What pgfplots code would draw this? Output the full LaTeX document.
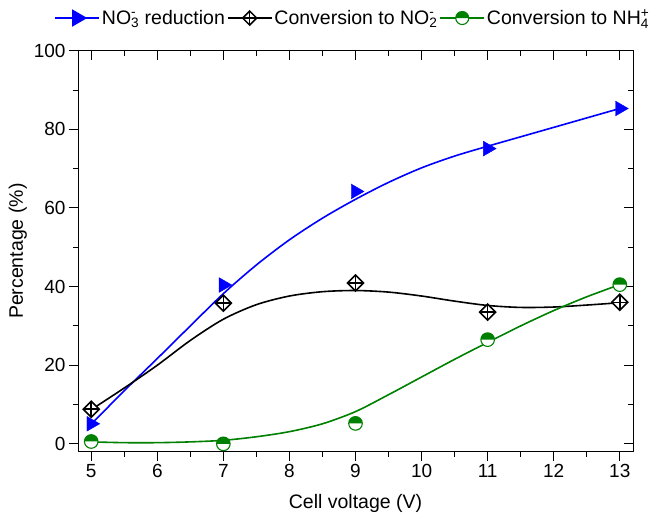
\documentclass[border=0pt]{standalone}
\usepackage{pgfplots}
\pgfplotsset{compat=1.18}
\usepackage{fontspec}
\setmainfont{Liberation Sans}
\definecolor{og}{RGB}{0,128,0}
\definecolor{ob}{RGB}{0,0,255}
\newcommand{\ion}[2]{\rlap{\textsuperscript{#2}}\textsubscript{#1}}
\newcommand{\fs}{\fontsize{19bp}{22bp}\selectfont}
\newcommand{\fl}{\fontsize{19.5bp}{22bp}\selectfont}

\pgfdeclareplotmark{dplus}{%
  \pgfpathmoveto{\pgfqpoint{0pt}{\pgfplotmarksize}}%
  \pgfpathlineto{\pgfqpoint{\pgfplotmarksize}{0pt}}%
  \pgfpathlineto{\pgfqpoint{0pt}{-\pgfplotmarksize}}%
  \pgfpathlineto{\pgfqpoint{-\pgfplotmarksize}{0pt}}%
  \pgfpathclose
  \pgfsetfillcolor{white}%
  \pgfusepathqfillstroke
  \pgfpathmoveto{\pgfqpoint{0pt}{\pgfplotmarksize}}%
  \pgfpathlineto{\pgfqpoint{0pt}{-\pgfplotmarksize}}%
  \pgfpathmoveto{\pgfqpoint{\pgfplotmarksize}{0pt}}%
  \pgfpathlineto{\pgfqpoint{-\pgfplotmarksize}{0pt}}%
  \pgfusepathqstroke}

\pgfdeclareplotmark{halfcirc}{%
  \pgfsetfillcolor{white}%
  \pgfpathcircle{\pgfpointorigin}{\pgfplotmarksize}%
  \pgfusepathqfill
  \pgfsetfillcolor{og}%
  \pgfpathmoveto{\pgfqpoint{\pgfplotmarksize}{0pt}}%
  \pgfpatharc{0}{180}{\pgfplotmarksize}%
  \pgfpathclose
  \pgfusepathqfill
  \pgfpathcircle{\pgfpointorigin}{\pgfplotmarksize}%
  \pgfusepathqstroke}

\pgfplotstableread{
x y
5 5.1
7 40.4
9 64.2
11 75.1
13 85.3
}\rednpts
\pgfplotstableread{
x y
5 8.8
7 35.8
9 40.9
11 33.5
13 36.0
}\nitpts
\pgfplotstableread{
x y
5 0.6
7 0.0
9 5.2
11 26.5
13 40.5
}\ammpts

\begin{document}
\begin{tikzpicture}
\pgfplotsset{
  base/.style={
    scale only axis, width=555bp, height=401bp,
    xmin=4.8, xmax=13.2, ymin=-2, ymax=100,
    xtick={5,6,...,13}, minor x tick num=1,
    ytick={0,20,...,100}, minor y tick num=1,
    major tick length=9bp, minor tick length=5bp,
    axis line style={line width=1bp},
    every tick/.style={line width=1bp, black},
  }
}
\begin{axis}[base,
  tick align=inside, xtick pos=right, ytick pos=right,
  xticklabels={}, yticklabels={},
]
\end{axis}
\begin{axis}[base,
  tick align=outside, xtick pos=left, ytick pos=left,
  /pgf/number format/assume math mode=true,
  tick label style={font=\fs},
  label style={font=\fl},
  xlabel={Cell voltage (V)},
  xlabel style={yshift=-10bp},
  ylabel={Percentage (\%)},
  legend style={at={(0.495,1.0815)}, anchor=center, draw=none, fill=none,
    font=\fl, legend columns=3,
    /tikz/every even column/.append style={column sep=0pt},
    inner xsep=0pt},
  legend image code/.code={
    \draw[mark repeat=2, mark phase=2] plot coordinates {(0bp,0bp) (22bp,0bp) (44bp,0bp)};},
  clip=false,
]
\coordinate (bl) at (rel axis cs:0,0);
\coordinate (tr) at (rel axis cs:1,1);
\addlegendimage{ob, line width=1.5bp, mark=triangle*, mark size=8.5bp, mark options={rotate=-90, solid}}
\addlegendentry{NO\ion{3}{-} reduction}
\addlegendimage{black, line width=1.5bp, mark=dplus, mark size=7bp, mark options={line width=1.5bp}}
\addlegendentry{Conversion to NO\ion{2}{-}}
\addlegendimage{og, line width=1.5bp, mark=halfcirc, mark size=6.5bp, mark options={line width=1.1bp}}
\addlegendentry{Conversion to NH\ion{4}{+}}

% fitted curves (read from the figure)
\addplot[forget plot, ob, line width=1.6bp, smooth, no marks] coordinates {
(5,5.0) (5.5,13.5) (6,21.7) (6.5,30.0) (7,38.2) (7.5,45.5) (8,51.9) (8.5,57.4)
(9,62.2) (9.5,66.5) (10,70.2) (10.5,73.2) (11,75.7) (11.5,78.1) (12,80.5) (12.5,82.9) (13,85.3)};
\addplot[forget plot, black, line width=1.6bp, smooth, no marks] coordinates {
(5,8.7) (5.5,14.2) (6,20.0) (6.5,26.3) (7,31.7) (7.5,35.4) (8,37.6) (8.5,38.7)
(9,39.0) (9.5,38.6) (10,37.6) (10.5,36.3) (11,35.2) (11.5,34.7) (12,34.8) (12.5,35.3) (13,35.9)};
\addplot[forget plot, og, line width=1.6bp, smooth, no marks] coordinates {
(5,0.5) (5.5,0.3) (6,0.3) (6.5,0.5) (7,0.9) (7.5,1.8) (8,3.1) (8.5,5.1)
(9,8.2) (9.5,12.5) (10,17.0) (10.5,21.5) (11,25.8) (11.5,30.0) (12,33.9) (12.5,37.4) (13,40.5)};

% measured points
\addplot[forget plot, only marks, black, mark=dplus, mark size=8bp, mark options={line width=1.6bp}] table {\nitpts};
\addplot[forget plot, only marks, og, mark=halfcirc, mark size=6.8bp, mark options={line width=1.1bp}] table {\ammpts};
\addplot[forget plot, only marks, ob, mark=triangle*, mark size=8.5bp, mark options={rotate=-90}] table {\rednpts};
\end{axis}
\pgfresetboundingbox
\path ([shift={(-78bp,-67bp)}]bl) rectangle ([shift={(24bp,50.7bp)}]tr);
\end{tikzpicture}
\end{document}
